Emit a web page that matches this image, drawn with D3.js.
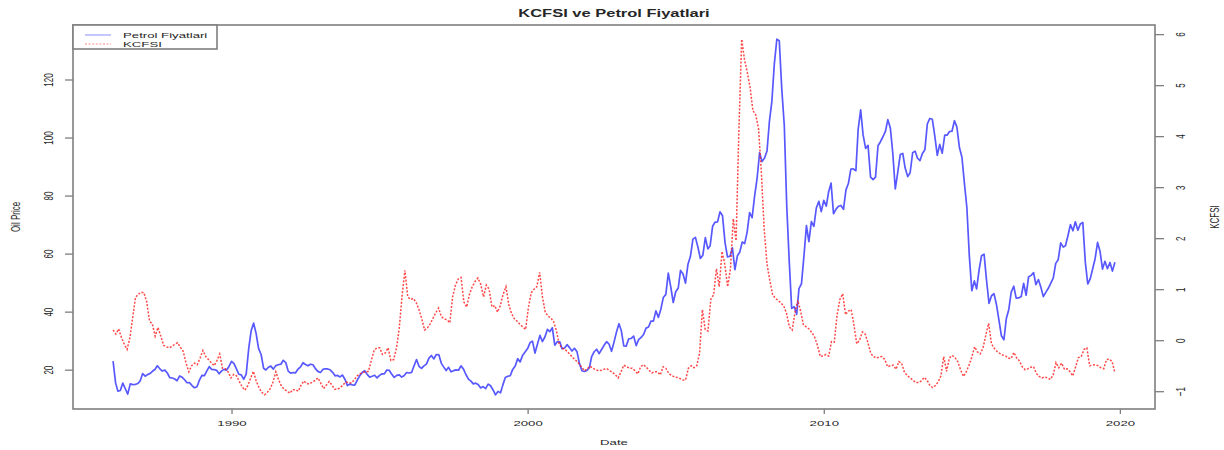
<!DOCTYPE html>
<html><head><meta charset="utf-8">
<script src="https://cdn.jsdelivr.net/npm/d3@7"></script>
<style>body{margin:0;background:#fff}svg{display:block}</style>
</head><body><svg id="c" width="1224" height="450"></svg>
<script>
const chartTitle = "KCFSI ve Petrol Fiyatlari";
const xLabel = "Date", yLeftLabel = "Oil Price", yRightLabel = "KCFSI";
const legendLabels = ["Petrol Fiyatlari", "KCFSI"];
const xTickYears = [1990, 2000, 2010, 2020];
const oilTicks = [20, 40, 60, 80, 100, 120];
const kcfsiTicks = [-1, 0, 1, 2, 3, 4, 5, 6];
const oilStartYear = 1986, oilStartMonth = 0; // monthly series, Jan 1986 - Nov 2019

const oilPrice = [
22.93,15.46,12.61,12.84,15.38,13.43,11.59,15.10,14.87,14.90,15.22,16.11,
18.65,17.75,18.30,18.68,19.44,20.07,21.34,20.31,19.53,19.86,18.85,17.28,
17.13,16.80,16.20,17.86,17.42,16.53,15.50,15.52,14.54,13.77,14.14,16.38,
18.02,17.94,19.48,21.07,20.12,20.05,19.78,18.58,19.59,20.10,19.86,21.10,
22.86,22.11,20.39,18.43,18.20,16.70,18.45,27.31,33.51,36.04,32.33,27.28,
25.23,20.48,19.90,20.83,21.23,20.19,21.40,21.69,21.89,23.23,22.46,19.50,
18.79,19.01,18.92,20.23,20.98,22.39,21.78,21.34,21.88,21.69,20.34,19.41,
19.03,20.09,20.32,20.25,19.95,19.09,17.89,18.01,17.50,18.15,16.61,14.52,
15.03,14.78,14.68,16.42,17.89,19.06,19.66,18.38,17.45,17.72,18.07,17.16,
18.04,18.57,18.54,19.90,19.74,18.45,17.33,18.02,18.23,17.43,17.99,19.03,
18.85,19.09,21.33,23.50,21.17,20.42,21.30,21.90,23.97,24.88,23.71,25.23,
25.13,22.18,20.97,19.70,20.82,19.26,19.66,19.95,19.80,21.33,20.19,18.33,
16.72,16.06,15.12,15.35,14.91,13.72,14.17,13.47,15.03,14.46,13.00,11.35,
12.52,12.01,14.68,17.31,17.72,17.92,20.10,21.28,23.80,22.69,25.00,26.10,
27.26,29.37,29.84,25.72,28.79,31.82,29.70,31.26,33.88,33.11,34.42,28.44,
29.59,29.61,27.24,27.49,28.63,27.60,26.43,27.37,26.20,22.17,19.64,19.39,
19.72,20.72,24.53,26.18,27.04,25.52,26.97,28.39,29.66,28.84,26.35,29.46,
32.95,35.83,33.51,28.17,28.11,30.66,30.75,31.57,28.31,30.34,31.11,32.13,
34.31,34.69,36.74,36.75,40.28,38.03,40.78,44.90,45.94,53.28,48.47,43.15,
46.84,48.15,54.19,52.98,49.83,56.35,59.00,64.99,65.59,62.26,58.32,59.41,
65.49,61.63,62.69,69.44,70.84,70.95,74.41,73.04,63.80,58.89,59.08,61.96,
54.51,59.28,60.44,63.98,63.46,67.49,74.12,72.36,79.92,85.80,94.77,91.69,
92.97,95.39,105.45,112.58,125.40,133.88,133.37,116.67,104.11,76.61,57.31,41.12,
41.71,39.09,47.94,49.65,59.03,69.64,64.15,71.05,69.41,75.72,77.99,74.47,
78.33,76.39,81.20,84.29,73.74,75.34,76.32,76.60,75.24,81.89,84.25,89.15,
89.17,88.58,102.86,109.53,100.90,96.26,97.30,86.33,85.52,86.32,97.16,98.56,
100.27,102.20,106.16,103.32,94.66,82.30,87.90,94.13,94.51,89.49,86.53,87.86,
94.76,95.31,92.94,92.02,94.51,95.77,104.67,106.57,106.29,100.54,93.86,97.63,
94.62,100.82,100.80,102.07,102.18,105.79,103.59,96.54,93.21,84.40,75.79,59.29,
47.22,50.58,47.82,54.45,59.27,59.82,50.90,42.87,45.48,46.22,42.44,37.19,
31.68,30.32,37.55,40.75,46.71,48.76,44.65,44.72,45.18,49.78,45.66,51.97,
52.50,53.47,49.33,51.06,48.48,45.18,46.63,48.04,49.82,51.58,56.64,57.88,
63.70,62.23,62.73,66.25,69.98,67.87,70.98,68.06,70.23,70.75,56.96,49.52,
51.38,54.95,58.15,63.86,60.83,54.66,57.35,54.81,56.95,53.96,57.03
];

// KCFSI, plotted against its own observation index (second overlaid plot)
const kcfsi = [
0.20,0.12,0.22,0.05,-0.08,-0.18,0.05,0.45,0.84,0.90,0.94,0.93,
0.75,0.37,0.32,0.08,0.25,0.08,-0.10,-0.13,-0.15,-0.12,-0.08,-0.05,
-0.14,-0.22,-0.45,-0.62,-0.50,-0.45,-0.48,-0.35,-0.20,-0.32,-0.38,-0.44,
-0.50,-0.40,-0.27,-0.55,-0.56,-0.62,-0.74,-0.67,-0.70,-0.81,-0.92,-0.98,
-0.89,-0.75,-0.61,-0.80,-0.93,-1.02,-1.07,-1.02,-0.95,-0.82,-0.62,-0.78,
-0.90,-0.96,-1.00,-1.04,-0.97,-0.97,-1.00,-0.88,-0.80,-0.85,-0.86,-0.82,
-0.79,-0.74,-0.84,-0.95,-0.88,-0.81,-0.88,-0.96,-0.96,-0.93,-0.87,-0.82,
-0.83,-0.84,-0.77,-0.70,-0.66,-0.63,-0.62,-0.61,-0.40,-0.20,-0.15,-0.15,
-0.28,-0.25,-0.15,-0.40,-0.38,-0.15,0.25,0.88,1.37,0.85,0.80,0.82,
0.74,0.60,0.42,0.20,0.24,0.32,0.43,0.54,0.63,0.46,0.42,0.40,
0.34,0.85,1.08,1.20,1.23,0.75,0.65,0.90,1.05,1.15,1.22,1.10,
0.85,1.08,1.00,0.65,0.68,0.55,0.68,0.90,1.05,0.70,0.52,0.42,
0.37,0.31,0.26,0.21,0.64,0.93,1.00,1.05,1.33,0.85,0.55,0.47,
0.44,0.36,0.18,-0.08,-0.16,-0.18,-0.23,-0.29,-0.35,-0.40,-0.46,-0.53,
-0.60,-0.56,-0.51,-0.55,-0.58,-0.60,-0.59,-0.57,-0.56,-0.60,-0.63,-0.68,
-0.74,-0.62,-0.49,-0.52,-0.55,-0.55,-0.60,-0.66,-0.52,-0.48,-0.53,-0.59,
-0.64,-0.62,-0.62,-0.68,-0.52,-0.55,-0.65,-0.69,-0.72,-0.73,-0.75,-0.78,
-0.78,-0.55,-0.50,-0.54,-0.50,-0.25,0.60,0.21,0.18,0.80,0.89,1.40,
1.05,1.74,1.48,1.05,1.40,2.38,1.95,4.10,5.90,5.50,5.25,4.95,
4.50,4.42,4.15,3.30,2.20,1.50,1.18,0.90,0.82,0.78,0.73,0.67,
0.52,0.26,0.20,0.55,0.78,0.57,0.30,0.26,0.22,0.15,0.06,-0.10,
-0.32,-0.31,-0.28,-0.31,-0.03,-0.04,0.50,0.80,0.91,0.50,0.57,0.60,
0.30,-0.07,0.00,0.16,0.12,-0.05,-0.26,-0.32,-0.35,-0.33,-0.32,-0.38,
-0.52,-0.50,-0.49,-0.57,-0.42,-0.45,-0.63,-0.69,-0.74,-0.78,-0.83,-0.83,
-0.80,-0.73,-0.78,-0.88,-0.93,-0.89,-0.82,-0.70,-0.32,-0.61,-0.35,-0.30,
-0.34,-0.42,-0.58,-0.71,-0.62,-0.49,-0.33,-0.13,-0.23,-0.27,-0.15,0.10,
0.33,-0.07,-0.16,-0.22,-0.26,-0.29,-0.31,-0.35,-0.36,-0.24,-0.35,-0.41,
-0.52,-0.58,-0.56,-0.53,-0.52,-0.65,-0.71,-0.74,-0.72,-0.74,-0.77,-0.68,
-0.44,-0.54,-0.45,-0.57,-0.56,-0.62,-0.70,-0.52,-0.34,-0.32,-0.18,-0.15,
-0.50,-0.49,-0.48,-0.50,-0.54,-0.56,-0.38,-0.37,-0.42,-0.64
];

const M = {l: 73, r: 1155, t: 25, b: 409};
const SX = 1.65;          // horizontal stretch of the glyphs in the reference
const FS = 8;             // base font size
const AXC = "#7f7f7f", TXC = "#262626";
const svg = d3.select("#c");

function pad(ext) { const r = ext[1] - ext[0]; return [ext[0] - 0.04 * r, ext[1] + 0.04 * r]; }

const oilDates = oilPrice.map((d, i) => new Date(oilStartYear, oilStartMonth + i, 1));
const tDom = pad(d3.extent(oilDates, d => +d)).map(v => new Date(v));
const x = d3.scaleTime().domain(tDom).range([M.l, M.r]);
const yL = d3.scaleLinear().domain(pad(d3.extent(oilPrice))).range([M.b, M.t]);
const xi = d3.scaleLinear().domain(pad([1, kcfsi.length])).range([M.l, M.r]);
const yR = d3.scaleLinear().domain(pad(d3.extent(kcfsi))).range([M.b, M.t]);

function label(px, py, s, opt = {}) {
  svg.append("text")
    .attr("transform", `translate(${px},${py}) scale(${SX},1)` + (opt.rot ? " rotate(-90)" : ""))
    .attr("text-anchor", "middle").attr("dy", "0.35em")
    .attr("font-family", "Liberation Sans, Arial, sans-serif")
    .attr("font-size", opt.size || FS).attr("font-weight", opt.bold ? "bold" : "normal")
    .attr("fill", TXC).text(s);
}

function styleAxis(g) {
  g.select(".domain").remove();
  g.selectAll(".tick line").attr("stroke", AXC).attr("stroke-width", 1.3);
  g.selectAll(".tick text").attr("fill", TXC)
    .attr("font-family", "Liberation Sans, Arial, sans-serif").attr("font-size", FS);
}

// bottom axis
const gx = svg.append("g").attr("transform", `translate(0,${M.b})`)
  .call(d3.axisBottom(x).tickValues(xTickYears.map(y => new Date(y, 0, 1)))
    .tickFormat(d3.timeFormat("%Y")).tickSize(5).tickSizeOuter(0));
styleAxis(gx);
gx.selectAll(".tick text").attr("y", 0).attr("dy", 0)
  .attr("transform", `translate(0,${14 + FS * 0.35}) scale(${SX},1)`);

// left axis
const gl = svg.append("g").attr("transform", `translate(${M.l},0)`)
  .call(d3.axisLeft(yL).tickValues(oilTicks).tickSize(8).tickSizeOuter(0));
styleAxis(gl);
gl.selectAll(".tick text").attr("x", 0).attr("dy", "0.35em").attr("text-anchor", "middle")
  .attr("transform", `translate(-25,0) scale(${SX},1) rotate(-90)`);

// right axis
const gr = svg.append("g").attr("transform", `translate(${M.r},0)`)
  .call(d3.axisRight(yR).tickValues(kcfsiTicks).tickSize(9).tickSizeOuter(0));
styleAxis(gr);
gr.selectAll(".tick text").attr("x", 0).attr("dy", "0.35em").attr("text-anchor", "middle")
  .attr("transform", `translate(25,0) scale(${SX},1) rotate(-90)`);

// plot box
svg.append("rect").attr("x", M.l).attr("y", M.t).attr("width", M.r - M.l).attr("height", M.b - M.t)
  .attr("fill", "none").attr("stroke", AXC).attr("stroke-width", 1.6);

// series
svg.append("path").datum(oilPrice)
  .attr("d", d3.line().x((d, i) => x(oilDates[i])).y(d => yL(d)))
  .attr("fill", "none").attr("stroke", "#2020ff").attr("stroke-opacity", 0.75)
  .attr("stroke-width", 1.7).attr("stroke-linejoin", "round");

svg.append("path").datum(kcfsi)
  .attr("d", d3.line().x((d, i) => xi(i + 1)).y(d => yR(d)))
  .attr("fill", "none").attr("stroke", "#ff1a1a").attr("stroke-opacity", 0.8)
  .attr("stroke-width", 1.5).attr("stroke-dasharray", "2,1.6");

// titles
label((M.l + M.r) / 2, 13, chartTitle, {bold: true, size: 10});
label((M.l + M.r) / 2, 442, xLabel);
label(15, (M.t + M.b) / 2, yLeftLabel, {rot: true});
label(1214, (M.t + M.b) / 2, yRightLabel, {rot: true});

// legend
svg.append("rect").attr("x", M.l).attr("y", M.t).attr("width", 144).attr("height", 24)
  .attr("fill", "#fff").attr("stroke", AXC).attr("stroke-width", 1.6);
const legColors = ["#2020ff", "#ff1a1a"], legDash = [null, "2,1.6"];
legendLabels.forEach((s, i) => {
  const ly = 35 + i * 9;
  svg.append("line").attr("x1", 85).attr("x2", 111).attr("y1", ly).attr("y2", ly)
    .attr("stroke", legColors[i]).attr("stroke-opacity", 0.35).attr("stroke-width", 1.5)
    .attr("stroke-dasharray", legDash[i]);
  svg.append("text")
    .attr("transform", `translate(123,${ly}) scale(${SX},1)`)
    .attr("dy", "0.35em").attr("font-family", "Liberation Sans, Arial, sans-serif")
    .attr("font-size", FS).attr("fill", TXC).text(s);
});
</script></body></html>
